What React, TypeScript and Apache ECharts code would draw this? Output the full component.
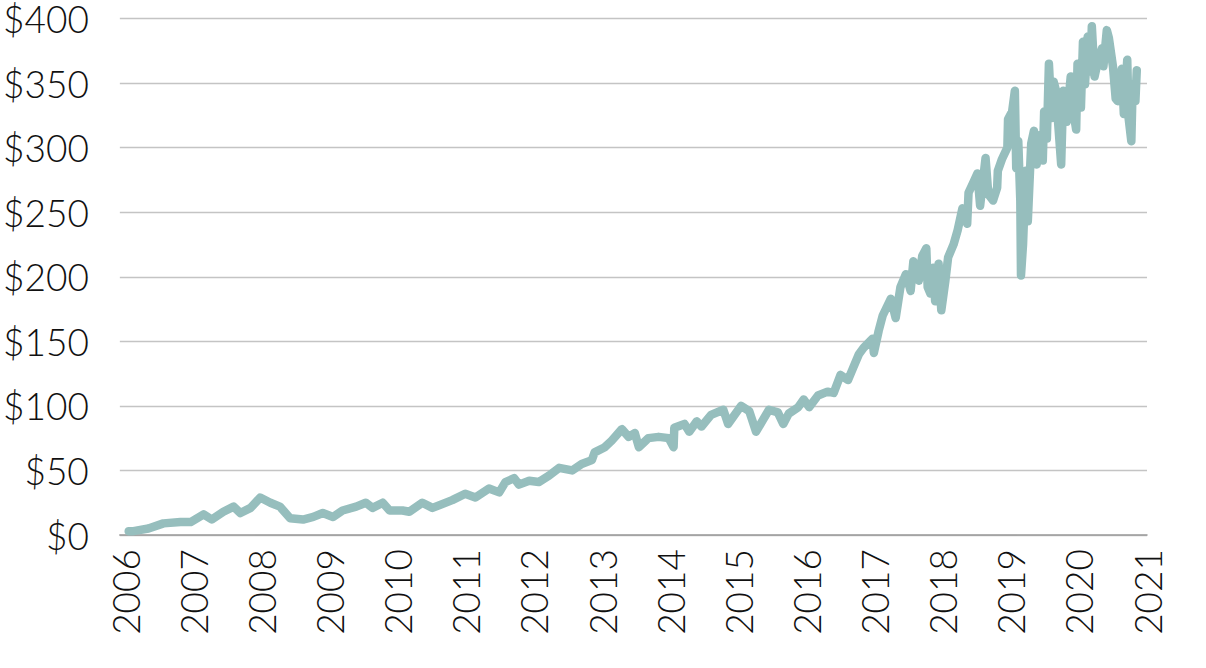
import React, { useEffect, useRef } from "react";
import * as echarts from "echarts";

// Decimal-year positions of the sampled points
const years: number[] = [
  2006.05, 2006.12, 2006.34, 2006.56, 2006.81, 2006.96,
  2007.15, 2007.27, 2007.44, 2007.59, 2007.69, 2007.84, 2007.98,
  2008.13, 2008.27, 2008.42, 2008.61, 2008.76, 2008.90,
  2009.05, 2009.19, 2009.39, 2009.53, 2009.63, 2009.78, 2009.88,
  2010.07, 2010.17, 2010.36, 2010.51, 2010.80, 2010.99,
  2011.14, 2011.34, 2011.49, 2011.58, 2011.71, 2011.78, 2011.93,
  2012.07, 2012.22, 2012.37, 2012.56, 2012.70, 2012.85, 2012.89,
  2013.04, 2013.14, 2013.29, 2013.39, 2013.48, 2013.54, 2013.68, 2013.83, 2013.98,
  2014.05, 2014.06, 2014.21, 2014.28, 2014.39, 2014.46, 2014.60, 2014.78, 2014.85,
  2015.04, 2015.16, 2015.26, 2015.36, 2015.45, 2015.58, 2015.66, 2015.74, 2015.88, 2015.96,
  2016.04, 2016.17, 2016.31, 2016.40, 2016.50, 2016.61, 2016.69, 2016.77, 2016.84, 2016.97, 2016.99,
  2017.06, 2017.12, 2017.24, 2017.31, 2017.38, 2017.46, 2017.53, 2017.57, 2017.65, 2017.70,
  2017.76, 2017.78, 2017.82, 2017.86, 2017.89, 2017.94, 2017.98,
  2018.04, 2018.08, 2018.16, 2018.22, 2018.29, 2018.36, 2018.38, 2018.45, 2018.51, 2018.55,
  2018.63, 2018.67, 2018.74, 2018.80, 2018.81, 2018.87, 2018.95, 2018.96,
  2019.02, 2019.06, 2019.08, 2019.11, 2019.14, 2019.15, 2019.18, 2019.22, 2019.25, 2019.30,
  2019.34, 2019.38, 2019.44, 2019.47, 2019.49, 2019.53, 2019.56, 2019.60, 2019.63, 2019.68,
  2019.69, 2019.74, 2019.77, 2019.82, 2019.88, 2019.91, 2019.96, 2019.98,
  2020.03, 2020.06, 2020.09, 2020.13, 2020.17, 2020.19, 2020.23, 2020.28, 2020.34, 2020.36,
  2020.41, 2020.44, 2020.50, 2020.54, 2020.57, 2020.63, 2020.66, 2020.71, 2020.73, 2020.77,
  2020.79, 2020.83, 2020.85,
];

// Price in dollars at each position
const prices: number[] = [
  3, 3, 5, 9, 10, 10,
  16, 12, 18, 22, 17, 21, 29,
  25, 22, 13, 12, 14, 17,
  14, 19, 22, 25, 21, 25, 19,
  19, 18, 25, 21, 27, 32,
  29, 36, 33, 41, 44, 39, 42,
  41, 46, 52, 50, 55, 58, 64,
  68, 73, 82, 76, 79, 68, 75, 76, 75,
  68, 83, 86, 80, 88, 84, 93, 97, 86,
  100, 96, 80, 89, 97, 95, 86, 94, 99, 105,
  99, 108, 111, 110, 124, 120, 130, 140, 145, 152, 141,
  158, 170, 183, 168, 192, 202, 189, 212, 197, 216,
  222, 192, 187, 207, 181, 210, 174,
  197, 215, 225, 236, 253, 241, 265, 273, 280, 255,
  292, 264, 259, 269, 282, 291, 300, 322,
  328, 344, 284, 305, 259, 201, 225, 282, 243, 303,
  313, 287, 310, 290, 328, 307, 365, 323, 351, 341,
  323, 287, 344, 320, 355, 331, 314, 365,
  331, 382, 349, 386, 359, 394, 355, 367, 377, 363,
  391, 385, 363, 338, 336, 361, 326, 368, 323, 305,
  349, 336, 360,
];

const yearTicks: number[] = [2006, 2007, 2008, 2009, 2010, 2011, 2012, 2013, 2014, 2015, 2016, 2017, 2018, 2019, 2020, 2021];

const FONT = "Lato";

export default function App() {
  const ref = useRef<HTMLDivElement>(null);
  useEffect(() => {
    if (!ref.current) return;
    const chart = echarts.init(ref.current, null, { renderer: "svg" });
    const data = years.map((y, i) => [y, prices[i]]);
    chart.setOption({
      animation: false,
      backgroundColor: "#ffffff",
      grid: { left: 116, right: 59, top: 17, bottom: 133, containLabel: false },
      xAxis: {
        type: "value",
        min: 2005.92,
        max: 2021,
        axisLine: { show: true, lineStyle: { color: "#9a9a9a", width: 1.5 } },
        axisTick: { show: false },
        splitLine: { show: false },
        axisLabel: {
          customValues: yearTicks,
          rotate: 90,
          margin: 14,
          fontFamily: FONT,
          fontWeight: 300,
          fontSize: 37,
          color: "#111111",
          formatter: (v: number) => String(Math.round(v)),
        },
      },
      yAxis: {
        type: "value",
        min: 0,
        max: 400,
        interval: 50,
        axisLine: { show: false },
        axisTick: { show: false },
        splitLine: { show: true, lineStyle: { color: "#c4c4c4", width: 1.3 } },
        axisLabel: {
          margin: 31,
          fontFamily: FONT,
          fontWeight: 300,
          fontSize: 37,
          lineHeight: 34,
          color: "#111111",
          formatter: (v: number) => "$" + v,
        },
      },
      series: [
        {
          type: "line",
          data,
          showSymbol: false,
          symbol: "none",
          smooth: false,
          lineStyle: { color: "#96bebd", width: 8.5, cap: "round", join: "round" },
        },
      ],
    });
    return () => chart.dispose();
  }, []);
  return (
    <div
      ref={ref}
      style={{ position: "fixed", left: 0, top: 0, width: 1206, height: 668, background: "#fff" }}
    />
  );
}
